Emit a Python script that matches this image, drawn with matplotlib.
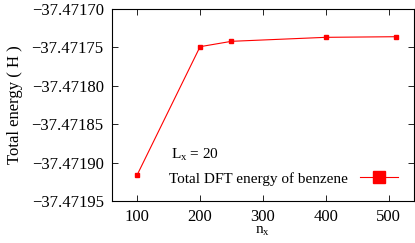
import matplotlib
matplotlib.use("Agg")
import matplotlib.pyplot as plt

# grid points along x and the total DFT energy (Hartree)
n_x = [100, 200, 250, 400, 512]
energy = [-37.471916, -37.4717491, -37.4717421, -37.4717369, -37.4717361]

x_ticks = [100, 200, 300, 400, 500]
y_ticks = [-37.47195, -37.47190, -37.47185, -37.47180, -37.47175, -37.47170]

plt.rcParams['font.family'] = ['Liberation Serif', 'DejaVu Serif']
plt.rcParams['mathtext.fontset'] = 'custom'
plt.rcParams['mathtext.rm'] = 'Liberation Serif'
plt.rcParams['mathtext.it'] = 'Liberation Serif:italic'
plt.rcParams['font.size'] = 12

fig = plt.figure(figsize=(4.15, 2.43), dpi=100)
ax = fig.add_axes([0.270, 0.173, 0.727, 0.790])

ax.plot(n_x, energy, color='red', lw=0.8, marker='s', markersize=3.5,
        label='Total DFT energy of benzene')

ax.set_xlim(60, 540)
ax.set_ylim(-37.47195, -37.47170)
ax.set_xticks(x_ticks)
ax.set_yticks(y_ticks)
ax.set_yticklabels([f"{v:.5f}".replace('-', '\u2212') for v in y_ticks])
ax.tick_params(direction='in', top=True, right=True, length=4, width=0.6)
ax.tick_params(axis='x', pad=6)
ax.tick_params(axis='y', pad=6)
for s in ax.spines.values():
    s.set_linewidth(0.8)

ax.set_xlabel(r'n$_{\mathrm{x}}$', labelpad=0, fontsize=11)
ax.set_ylabel('Total energy ( H )', labelpad=6)

ax.text(0.195, 0.22, r'L$_{\mathrm{x}}$ = 20', transform=ax.transAxes, fontsize=11)

ax.legend(loc='lower right', markerfirst=False, frameon=False, markerscale=2.3,
          handlelength=2.5, borderaxespad=0.6, fontsize=11)

fig.savefig('out.png', dpi=100)
